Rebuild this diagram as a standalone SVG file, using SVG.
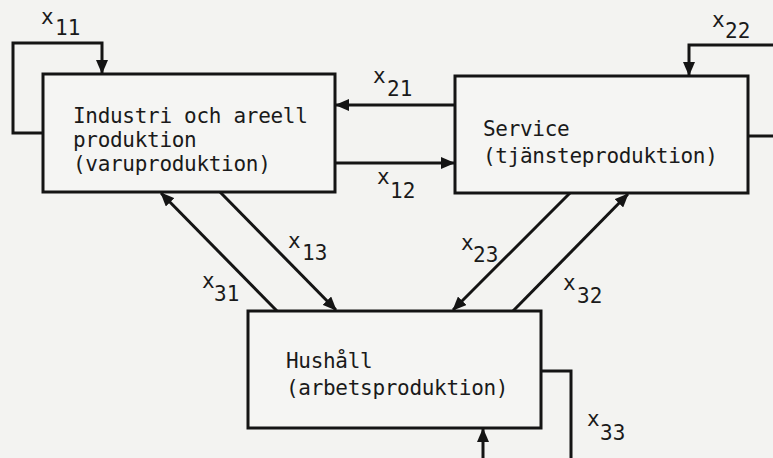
<svg xmlns="http://www.w3.org/2000/svg" width="773" height="458" viewBox="0 0 773 458">
<style>
  .bg { fill: #f3f3f1; }
  .box { fill: #f5f5f3; stroke: #141414; stroke-width: 3; }
  .ln { fill: none; stroke: #141414; stroke-width: 3; }
  .t { font-family: "DejaVu Sans Mono", "Liberation Mono", monospace; font-size: 21px; letter-spacing: -0.3px; fill: #1a1a1a; }
  .lb { font-family: "DejaVu Sans Mono", "Liberation Mono", monospace; font-size: 21px; fill: #1a1a1a; }
</style>
<defs>
  <marker id="ah" markerUnits="userSpaceOnUse" markerWidth="14" markerHeight="12" refX="13" refY="6" orient="auto">
    <path d="M0,0 L14,6 L0,12 z" fill="#141414"/>
  </marker>
</defs>
<rect class="bg" x="0" y="0" width="773" height="458"/>

<g id="connectors">
  <!-- x11 loop -->
  <polyline class="ln" points="43,133 13,133 13,43 102,43 102,73" marker-end="url(#ah)"/>
  <!-- x22 loop -->
  <polyline class="ln" points="773,45 689,45 689,75" marker-end="url(#ah)"/>
  <line class="ln" x1="748" y1="136" x2="773" y2="136"/>
  <!-- x21 -->
  <line class="ln" x1="455" y1="105" x2="336" y2="105" marker-end="url(#ah)"/>
  <!-- x12 -->
  <line class="ln" x1="335" y1="163" x2="454" y2="163" marker-end="url(#ah)"/>
  <!-- x31 -->
  <line class="ln" x1="277" y1="311" x2="161" y2="193" marker-end="url(#ah)"/>
  <!-- x13 -->
  <line class="ln" x1="220" y1="192" x2="336" y2="310" marker-end="url(#ah)"/>
  <!-- x23 -->
  <line class="ln" x1="570" y1="193" x2="453" y2="310" marker-end="url(#ah)"/>
  <!-- x32 -->
  <line class="ln" x1="513" y1="311" x2="628" y2="194" marker-end="url(#ah)"/>
  <!-- x33 loop -->
  <polyline class="ln" points="541,371 571,371 571,458"/>
  <line class="ln" x1="483" y1="458" x2="483" y2="429" marker-end="url(#ah)"/>
</g>

<g id="node-industri">
  <rect class="box" x="43" y="74" width="292" height="118"/>
  <text class="t" x="73" y="123">Industri och areell</text>
  <text class="t" x="73" y="147">produktion</text>
  <text class="t" x="73" y="171">(varuproduktion)</text>
</g>

<g id="node-service">
  <rect class="box" x="455" y="76" width="293" height="117"/>
  <text class="t" x="483" y="136">Service</text>
  <text class="t" x="483" y="163">(tjänsteproduktion)</text>
</g>

<g id="node-hushall">
  <rect class="box" x="248" y="311" width="293" height="117"/>
  <text class="t" x="286" y="368">Hushåll</text>
  <text class="t" x="286" y="395">(arbetsproduktion)</text>
</g>

<g id="labels">
  <text class="lb" x="41" y="24">x</text><text class="lb" x="55" y="35">11</text>
  <text class="lb" x="712" y="27">x</text><text class="lb" x="725" y="38">22</text>
  <text class="lb" x="373" y="83">x</text><text class="lb" x="387" y="96">21</text>
  <text class="lb" x="377" y="184">x</text><text class="lb" x="390" y="198">12</text>
  <text class="lb" x="288" y="248">x</text><text class="lb" x="302" y="260">13</text>
  <text class="lb" x="202" y="288">x</text><text class="lb" x="214" y="301">31</text>
  <text class="lb" x="461" y="250">x</text><text class="lb" x="473" y="262">23</text>
  <text class="lb" x="563" y="290">x</text><text class="lb" x="577" y="303">32</text>
  <text class="lb" x="587" y="426">x</text><text class="lb" x="600" y="440">33</text>
</g>
</svg>
